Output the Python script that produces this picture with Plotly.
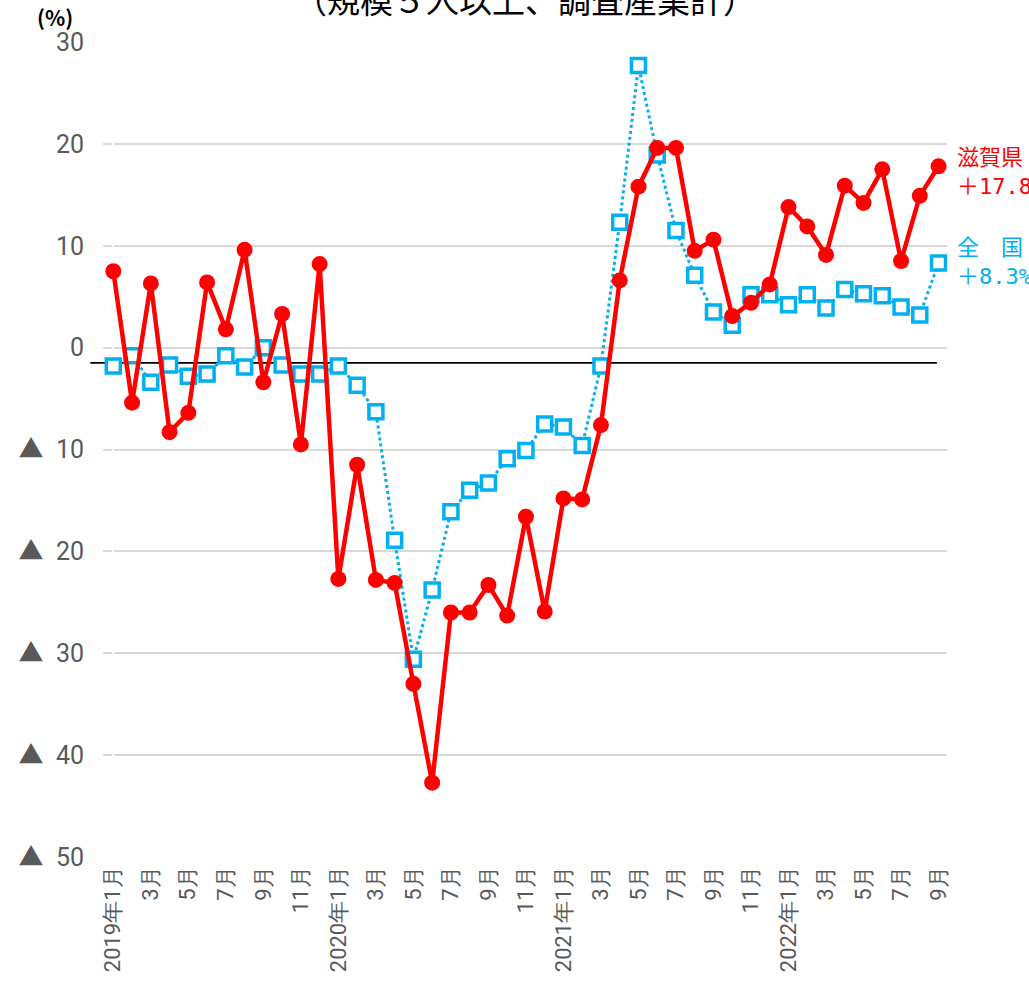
import plotly.graph_objects as go

# months 2019/1 .. 2022/9
months = list(range(45))
month_labels = []
for y in range(2019, 2023):
    for m in range(1, 13):
        if y == 2022 and m > 9:
            break
        month_labels.append(f"{y}年{m}月" if m == 1 else f"{m}月")

shiga = [7.5, -5.4, 6.3, -8.3, -6.4, 6.4, 1.8, 9.6, -3.4, 3.3, -9.5, 8.2,
         -22.7, -11.5, -22.8, -23.1, -33.0, -42.7, -26.0, -26.0, -23.3, -26.3, -16.6, -25.9,
         -14.8, -14.9, -7.6, 6.6, 15.8, 19.6, 19.6, 9.5, 10.6, 3.1, 4.4, 6.2,
         13.8, 11.9, 9.1, 15.9, 14.2, 17.5, 8.5, 14.9, 17.8]
zenkoku = [-1.8, -0.8, -3.4, -1.7, -2.8, -2.6, -0.8, -1.9, 0.0, -1.7, -2.6, -2.6,
           -1.8, -3.7, -6.3, -18.9, -30.6, -23.8, -16.1, -14.0, -13.3, -10.9, -10.1, -7.5,
           -7.8, -9.6, -1.8, 12.3, 27.7, 18.9, 11.5, 7.1, 3.5, 2.2, 5.2, 5.2,
           4.2, 5.2, 3.9, 5.7, 5.3, 5.1, 4.0, 3.2, 8.3]

y_ticks = [30, 20, 10, 0, -10, -20, -30, -40, -50]
y_values = ["30", "20", "10", "0", "10", "20", "30", "40", "50"]

font = "Noto Sans CJK JP"
tick_font = "Roboto"
label_font = "DejaVu Sans Mono, Noto Sans CJK JP"
red = "#FF0000"
blue = "#00B0F0"

# negative values get a big triangle in front
tri = '<span style="font-family:Noto Sans CJK JP">▲</span>  '
y_labels = [(tri + s) if v < 0 else s for v, s in zip(y_ticks, y_values)]

fig = go.Figure()
fig.add_trace(go.Scatter(
    x=months, y=zenkoku, mode="lines+markers", name="全国",
    line=dict(color=blue, width=3, dash="dot"),
    marker=dict(symbol="square", size=14, color="white", line=dict(color=blue, width=3.5)),
))
fig.add_trace(go.Scatter(
    x=months, y=shiga, mode="lines+markers", name="滋賀県",
    line=dict(color=red, width=4.5),
    marker=dict(symbol="circle", size=16, color=red),
))

# black base line slightly below zero
fig.add_shape(type="line", xref="paper", yref="y", x0=-0.015, x1=0.988, y0=-1.5, y1=-1.5,
              line=dict(color="black", width=1.8), layer="below")

fig.add_annotation(text="（規模５人以上、調査産業計）", xref="paper", yref="paper",
                   x=0.5, y=1, yanchor="middle", yshift=43, showarrow=False,
                   font=dict(family=font, size=33, color="black"))
fig.add_annotation(text="<b>(%)</b>", xref="paper", yref="paper", x=-0.057, y=1,
                   xanchor="center", yanchor="middle", yshift=25, showarrow=False,
                   font=dict(family=font, size=21, color="black"))
fig.add_annotation(text="滋賀県<br>＋17.8%", xref="paper", yref="y", x=1.01, y=17.2,
                   xanchor="left", yanchor="middle", align="left", showarrow=False,
                   font=dict(family=label_font, size=22, color=red))
fig.add_annotation(text="全　国<br>＋8.3%", xref="paper", yref="y", x=1.01, y=8.4,
                   xanchor="left", yanchor="middle", align="left", showarrow=False,
                   font=dict(family=label_font, size=22, color=blue))

fig.update_xaxes(range=[-0.55, 44.45], tickmode="array", tickvals=months[::2],
                 ticktext=month_labels[::2], tickangle=-90, showgrid=False,
                 showline=False, ticks="", automargin=False, ticklabelstandoff=4,
                 tickfont=dict(family=tick_font, size=22, color="#595959"))
fig.update_yaxes(range=[-50, 30], tickmode="array", tickvals=y_ticks, ticktext=y_labels,
                 showgrid=True, gridcolor="#D9D9D9", gridwidth=2, zeroline=False,
                 showline=False, ticks="", ticklabelstandoff=18, automargin=False,
                 tickfont=dict(family=tick_font, size=25, color="#595959"))

fig.update_layout(width=1029, height=997, showlegend=False,
                  plot_bgcolor="white", paper_bgcolor="white",
                  margin=dict(l=103, r=82, t=42, b=140))

# the page body has an 8px margin by default; drop it so the chart sits at 0,0
fig.write_html("out.html", config={"displayModeBar": False},
               post_script="document.body.style.margin='0';")
